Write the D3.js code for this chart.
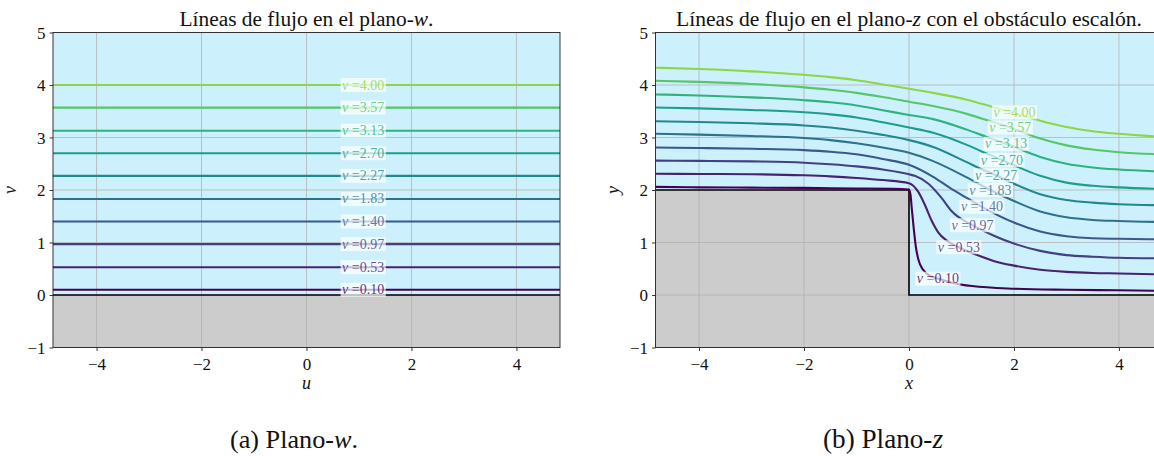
<!DOCTYPE html>
<html><head><meta charset="utf-8">
<script src="https://cdn.jsdelivr.net/npm/d3@7"></script>
<style>
body{margin:0;background:#fff}
svg{display:block}
svg text{font-family:"Liberation Serif","DejaVu Serif",serif;fill:#111}
</style>
</head><body>
<svg id="c" width="1154" height="456"></svg>
<script>
// ---------- data ----------
const levels = [0.10, 0.53, 0.97, 1.40, 1.83, 2.27, 2.70, 3.13, 3.57, 4.00];
const levelText = ["0.10","0.53","0.97","1.40","1.83","2.27","2.70","3.13","3.57","4.00"];
const xTicks = [-4, -2, 0, 2, 4];
const yTicks = [-1, 0, 1, 2, 3, 4, 5];
const xDomain = [-4.83, 4.83];
const yDomain = [-1, 5];
const wallW = [[-4.83, 0], [4.83, 0]];
const wallZ = [[-4.83, 2], [0, 2], [0, 0], [4.83, 0]];
const labelU = 1.08;

// streamlines in the z-plane: [x, y]
const s010 = [[-4.83,2.06],[-4,2.05],[-3,2.045],[-2,2.04],[-1,2.03],[-0.3,2.025],[0,2.01],[0.03,1.90],[0.05,1.68],[0.09,1.27],[0.13,0.92],[0.18,0.67],[0.27,0.48],[0.43,0.35],[0.56,0.31],[0.8,0.24],[1.2,0.17],[2.0,0.12],[3.0,0.10],[4.0,0.09],[4.83,0.08]];
const s053 = [[-4.83,2.31],[-4,2.305],[-3,2.30],[-2,2.28],[-1.5,2.26],[-1,2.23],[-0.5,2.19],[0,2.13],[0.18,1.96],[0.31,1.70],[0.43,1.42],[0.56,1.19],[0.7,1.05],[0.95,0.91],[1.3,0.76],[1.64,0.64],[2.0,0.56],[2.5,0.48],[3.0,0.44],[3.5,0.42],[4.0,0.41],[4.83,0.39]];
const s097 = [[-4.83,2.56],[-4,2.555],[-3,2.545],[-2,2.52],[-1.5,2.49],[-1,2.45],[-0.5,2.39],[0,2.30],[0.11,2.27],[0.37,2.12],[0.62,1.85],[0.81,1.60],[1.21,1.33],[1.64,1.12],[2.0,0.98],[2.5,0.84],[3.0,0.76],[3.5,0.73],[4.0,0.71],[4.83,0.70]];
const s140 = [[-4.83,2.81],[-4,2.80],[-3,2.785],[-2,2.76],[-1.5,2.73],[-1,2.68],[-0.5,2.59],[0,2.48],[0.46,2.25],[0.78,2.04],[1.1,1.85],[1.39,1.68],[2.0,1.38],[2.5,1.21],[3.0,1.12],[3.5,1.08],[4.0,1.07],[4.83,1.06]];
const s183 = [[-4.83,3.07],[-4,3.055],[-3,3.03],[-2,2.99],[-1.5,2.95],[-1,2.89],[-0.5,2.81],[0,2.71],[0.46,2.55],[1.1,2.24],[1.55,2.00],[2.0,1.79],[2.5,1.59],[3.0,1.48],[3.5,1.43],[4.0,1.41],[4.83,1.39]];
const s227 = [[-4.83,3.31],[-4,3.295],[-3,3.27],[-2,3.23],[-1.5,3.19],[-1,3.13],[-0.5,3.05],[0,2.95],[0.46,2.82],[1.1,2.53],[1.35,2.41],[1.66,2.28],[2.0,2.12],[2.5,1.92],[3.0,1.81],[3.5,1.76],[4.0,1.73],[4.83,1.71]];
const s270 = [[-4.83,3.57],[-4,3.555],[-3,3.525],[-2,3.48],[-1.5,3.44],[-1,3.38],[-0.5,3.29],[0,3.19],[0.46,3.09],[1.1,2.86],[1.42,2.72],[1.77,2.57],[2.0,2.47],[2.5,2.27],[3.0,2.14],[3.5,2.08],[4.0,2.05],[4.83,2.02]];
const s313 = [[-4.83,3.82],[-4,3.80],[-3,3.765],[-2,3.71],[-1.5,3.67],[-1,3.61],[-0.5,3.52],[0,3.43],[0.46,3.35],[1.1,3.15],[1.48,3.01],[1.85,2.88],[2.5,2.63],[3.0,2.50],[3.5,2.43],[4.0,2.39],[4.83,2.35]];
const s357 = [[-4.83,4.08],[-4,4.06],[-3,4.02],[-2,3.955],[-1.5,3.91],[-1,3.85],[-0.5,3.77],[0,3.68],[0.46,3.60],[1.1,3.45],[1.55,3.31],[1.93,3.19],[2.5,2.98],[3.0,2.85],[3.5,2.77],[4.0,2.72],[4.83,2.68]];
const s400 = [[-4.83,4.33],[-4,4.305],[-3,4.26],[-2,4.195],[-1.5,4.15],[-1,4.09],[-0.5,4.01],[0,3.93],[0.46,3.85],[1.1,3.72],[1.6,3.58],[2.0,3.47],[2.5,3.32],[3.0,3.20],[3.5,3.12],[4.0,3.07],[4.83,3.01]];
const streamsZ = [s010, s053, s097, s140, s183, s227, s270, s313, s357, s400];
const labelPosZ = [[0.55,0.31],[0.95,0.91],[1.21,1.33],[1.39,1.68],[1.55,2.00],[1.66,2.28],[1.77,2.57],[1.85,2.88],[1.93,3.19],[2.01,3.48]];

// ---------- layout ----------
const FONT = "'Liberation Serif','DejaVu Serif',serif";
const svg = d3.select("#c");
const color = i => d3.interpolateViridis(0.83 * i / (levels.length - 1));
const plotTop = 32.5, plotBottom = 347.5;

function fitText(t, targetW, size) {
  const w = t.node().getComputedTextLength();
  t.style("font-size", (size * targetW / w).toFixed(2) + "px");
}

function panel(opts) {
  const x = d3.scaleLinear().domain(xDomain).range([opts.left, opts.right]);
  const y = d3.scaleLinear().domain(yDomain).range([plotBottom, plotTop]);
  const g = svg.append("g");
  const clipId = "clip" + opts.id;
  g.append("clipPath").attr("id", clipId).append("rect")
    .attr("x", opts.left).attr("y", plotTop).attr("width", opts.right - opts.left).attr("height", plotBottom - plotTop);
  const pg = g.append("g").attr("clip-path", `url(#${clipId})`);
  pg.append("rect").attr("x", opts.left).attr("y", plotTop).attr("width", opts.right - opts.left).attr("height", plotBottom - plotTop).attr("fill", "#ccf0fc");
  const area = d3.area().x(d => x(d[0])).y0(y(yDomain[0])).y1(d => y(d[1])).curve(d3.curveLinear);
  pg.append("path").datum(opts.wall).attr("d", area).attr("fill", "#cccccc");
  pg.selectAll(".gx").data(xTicks).join("line")
    .attr("x1", d => x(d)).attr("x2", d => x(d)).attr("y1", plotTop).attr("y2", plotBottom)
    .attr("stroke", "#b0b0b0").attr("stroke-opacity", 0.75).attr("stroke-width", 1);
  pg.selectAll(".gy").data(yTicks).join("line")
    .attr("y1", d => y(d)).attr("y2", d => y(d)).attr("x1", opts.left).attr("x2", opts.right)
    .attr("stroke", "#b0b0b0").attr("stroke-opacity", 0.75).attr("stroke-width", 1);
  const line = d3.line().x(d => x(d[0])).y(d => y(d[1]));
  pg.append("path").datum(opts.wall).attr("d", line).attr("fill", "none").attr("stroke", "#000").attr("stroke-width", 1.6);
  const sl = d3.line().x(d => x(d[0])).y(d => y(d[1])).curve(d3.curveMonotoneX);
  pg.selectAll(".st").data(opts.streams).join("path")
    .attr("d", sl).attr("fill", "none").attr("stroke", (d, i) => color(i)).attr("stroke-width", 2.1);
  opts.labels.forEach((p, i) => {
    const lg = pg.append("g").attr("transform", `translate(${x(p[0])},${y(p[1])})`);
    const rect = lg.append("rect");
    const t = lg.append("text").attr("text-anchor", "middle").attr("y", 4.5)
      .style("font-family", FONT).style("font-size", "14px").style("fill", color(i)).style("fill-opacity", 0.8);
    t.append("tspan").style("font-style", "italic").text("v");
    t.append("tspan").text(" =" + levelText[i]);
    const w = t.node().getComputedTextLength();
    rect.attr("x", -w / 2 - 1.5).attr("y", -7).attr("width", w + 3).attr("height", 14)
      .attr("fill", "#fff").attr("fill-opacity", 0.7);
  });
  const fmt = d => d < 0 ? "\u2212" + Math.abs(d) : d;
  const ax = g.append("g").attr("transform", `translate(0,${plotBottom})`)
    .call(d3.axisBottom(x).tickValues(xTicks).tickSize(3.5).tickPadding(4).tickFormat(fmt));
  const ay = g.append("g").attr("transform", `translate(${opts.left},0)`)
    .call(d3.axisLeft(y).tickValues(yTicks).tickSize(3.5).tickPadding(4).tickFormat(fmt));
  [ax, ay].forEach(a => {
    a.attr("font-family", FONT).attr("font-size", 17);
    a.select(".domain").remove();
    a.selectAll("line").attr("stroke", "#222").attr("stroke-width", 0.9);
    a.selectAll("text").style("font-size", "17px").attr("fill", "#111").style("font-family", FONT);
  });
  ax.selectAll("text").attr("dy", "0.86em");
  ay.selectAll("text").attr("dy", "0.34em");
  g.append("rect").attr("x", opts.left).attr("y", plotTop).attr("width", opts.right - opts.left).attr("height", plotBottom - plotTop)
    .attr("fill", "none").attr("stroke", "#222").attr("stroke-width", 0.9);
  const cx = (opts.left + opts.right) / 2;
  const tt = g.append("text").attr("x", cx).attr("y", 26).attr("text-anchor", "middle").style("font-family", FONT).style("font-size", "19px");
  tt.append("tspan").text(opts.title[0]);
  tt.append("tspan").style("font-style", "italic").text(opts.title[1]);
  tt.append("tspan").text(opts.title[2]);
  fitText(tt, opts.titleW, 19);
  g.append("text").attr("x", cx).attr("y", 389).attr("text-anchor", "middle").style("font-family", FONT).style("font-size", "18px").style("font-style", "italic").text(opts.xl);
  g.append("text").attr("transform", `translate(${opts.left - 37},${(plotTop + plotBottom) / 2}) rotate(-90)`)
    .attr("text-anchor", "middle").style("font-family", FONT).style("font-size", "18px").style("font-style", "italic").text(opts.yl);
}

panel({
  id: "w", left: 53, right: 560, wall: wallW,
  streams: levels.map(v => [[xDomain[0], v], [xDomain[1], v]]),
  labels: levels.map(v => [labelU, v]),
  title: ["Líneas de flujo en el plano-", "w", "."], titleW: 254, xl: "u", yl: "v"
});
panel({
  id: "z", left: 655.5, right: 1162.5, wall: wallZ,
  streams: streamsZ, labels: labelPosZ,
  title: ["Líneas de flujo en el plano-", "z", " con el obstáculo escalón."], titleW: 466, xl: "x", yl: "y"
});

const capA = svg.append("text").attr("x", 294).attr("y", 448).attr("text-anchor", "middle").style("font-family", FONT).style("font-size", "22px");
capA.append("tspan").text("(a) Plano-"); capA.append("tspan").style("font-style", "italic").text("w"); capA.append("tspan").text(".");
fitText(capA, 128, 22);
const capB = svg.append("text").attr("x", 883).attr("y", 448).attr("text-anchor", "middle").style("font-family", FONT).style("font-size", "22px");
capB.append("tspan").text("(b) Plano-"); capB.append("tspan").style("font-style", "italic").text("z");
fitText(capB, 120, 22);
</script>
</body></html>
